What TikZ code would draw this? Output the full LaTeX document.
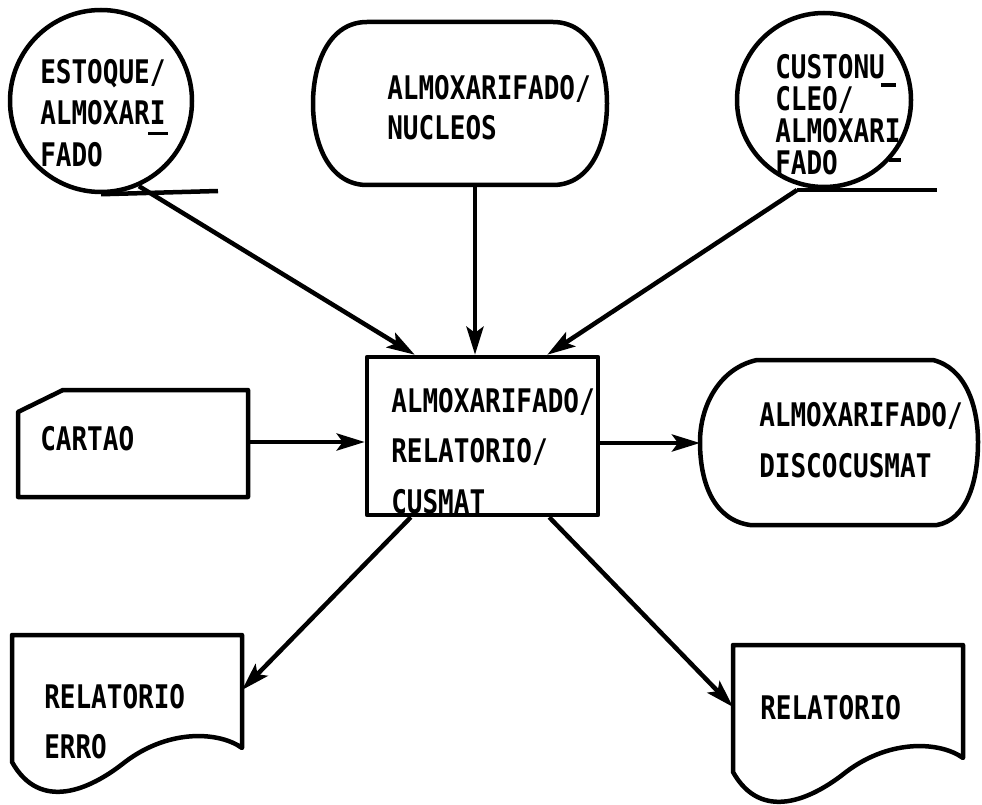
\documentclass[tikz,border=0pt]{standalone}
\usepackage{fontspec}
\newfontfamily\mono[FakeStretch=0.8]{DejaVu Sans Mono}
\usetikzlibrary{arrows.meta}
\usetikzlibrary{calc}

\newcommand{\udash}[4]{#4\llap{\smash{\rule[#1]{#2}{3.5pt}}\kern-#3}}

\tikzset{
  flow/.style={-{Stealth[length=28pt, width=17pt, inset=6pt]}},
  ttext/.style={font=\fontsize{32.5pt}{#1}\mono\bfseries, align=left, inner sep=0pt, anchor=north west},
  docpage/.pic={
    \draw (0,0) -- (230,0) -- (230,113)
      .. controls (208,97) and (158,93) .. (113,127)
      .. controls (78,155) and (28,177) .. (0,127) -- cycle;
  }
}

\begin{document}
\begin{tikzpicture}[x=1pt, y=-1pt, line width=4.5pt, line join=round]
          \useasboundingbox (0,0) rectangle (982,805);

          \node[draw, circle, minimum size=182pt, inner sep=0pt] (estoque) at (101,101) {};
          \coordinate (estoquetail) at (218,191);
          \draw (estoque.south) -- (estoquetail);
          \node[ttext=41.5pt] (estoquetxt) at (38,57) {ESTOQUE/\\ALMOXAR\udash{-10.5pt}{20pt}{3pt}{I}\\FADO};

          \draw (367,22) -- (553,22) .. controls (590,22) and (607,62) .. (607,103.5)
                .. controls (607,145) and (590,185) .. (553,185) -- (367,185)
                .. controls (330,185) and (313,145) .. (313,103.5)
                .. controls (313,62) and (330,22) .. cycle;
          \coordinate (nucleos) at (475,185);
          \node[ttext=40pt] (nucleostxt) at (385,73) {ALMOXARIFADO/\\NUCLEOS};

          \node[draw, circle, minimum size=174pt, inner sep=0pt] (custo) at (824,100) {};
          \coordinate (custotail) at (797,190);
          \draw (custotail) -- (937,190);
          \node[ttext=32pt] (custotxt) at (773,52) {CUSTON\udash{-8.5pt}{15pt}{11pt}{U}\\CLEO/\\ALMOXAR\udash{-19.5pt}{12pt}{1pt}{I}\\FADO};

          \draw (18,412) -- (63,390) -- (248,390) -- (248,497) -- (18,497) -- cycle;
          \coordinate (cartao) at (248,442);
          \node[ttext=40pt] (cartaotxt) at (38,424) {CARTAO};

          \node[draw, minimum width=231pt, minimum height=158pt, inner sep=0pt] (proc) at (482.5,436) {};
          \node[ttext=50.5pt] (proctxt) at (389,386) {ALMOXARIFADO/\\RELATORIO/\\CUSMAT};

          \draw (757,360) -- (933,360) .. controls (965,368) and (978,405) .. (978,442)
                .. controls (978,485) and (965,520) .. (937,525) -- (750,525)
                .. controls (715,520) and (700,485) .. (700,442)
                .. controls (700,405) and (720,368) .. cycle;
          \coordinate (disco) at (700,443);
          \node[ttext=51pt] (discotxt) at (757,400) {ALMOXARIFADO/\\DISCOCUSMAT};

          \pic at (12,635) {docpage};
          \coordinate (relerro) at (242,690);
          \node[ttext=50pt] (relerrotxt) at (42,682) {RELATORIO\\ERRO};

          \pic at (733,645) {docpage};
          \coordinate (relat) at (733,707);
          \node[ttext=40pt] (relattxt) at (758,693) {RELATORIO};

          \draw[flow] (estoque.-66) -- ($(proc.north west)+(50,0)$);
          \draw[flow] (nucleos) -- (nucleos |- proc.north);
          \draw[flow] (custotail) -- ($(proc.north east)+(-53,0)$);
          \draw[flow] (cartao) -- (proc.west |- cartao);
          \draw[flow] (proc.east |- disco) -- (disco);
          \draw[flow] ($(proc.south west)+(46,0)$) -- (relerro);
          \draw[flow] ($(proc.south east)+(-51,0)$) -- (relat);

        \end{tikzpicture}
\end{document}
